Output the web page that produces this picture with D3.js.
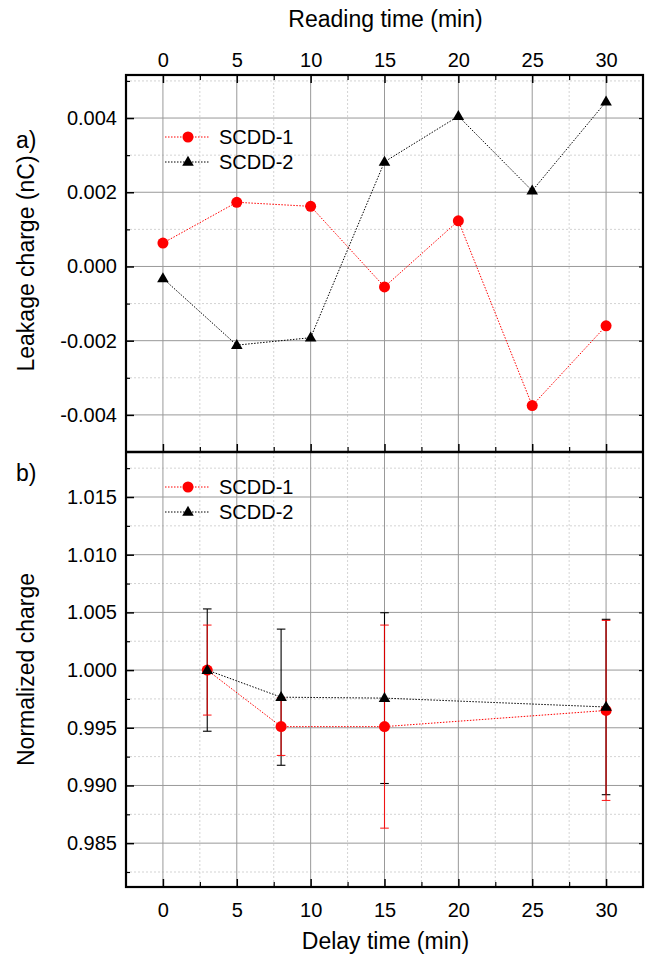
<!DOCTYPE html>
<html><head><meta charset="utf-8">
<script src="https://cdn.jsdelivr.net/npm/d3@7"></script>
<style>body{margin:0;background:#fff}svg{display:block}text{font-family:"Liberation Sans",Arial,sans-serif;fill:#000}</style>
</head><body><svg id="c" width="648" height="959"></svg>
<script>
// ---- data ----
const readTimes = [0, 5, 10, 15, 20, 25, 30];
const leakSCDD1 = [0.00063, 0.00173, 0.00162, -0.00055, 0.00123, -0.00375, -0.0016];
const leakSCDD2 = [-0.00032, -0.00212, -0.00192, 0.00282, 0.00405, 0.00204, 0.00444];
const delayTimes = [3, 8, 15, 30];
const normSCDD1 = [1.0000, 0.9951, 0.9951, 0.9965];
const errSCDD1 = [0.0039, 0.0025, 0.0088, 0.0078];
const normSCDD2 = [1.0000, 0.99765, 0.99757, 0.9968];
const errSCDD2 = [0.0053, 0.0059, 0.0074, 0.0076];
const xTicks = [0, 5, 10, 15, 20, 25, 30];
const yTicksA = [-0.004, -0.002, 0.000, 0.002, 0.004];
const yTicksB = [0.985, 0.990, 0.995, 1.000, 1.005, 1.010, 1.015];
const seriesNames = ["SCDD-1", "SCDD-2"];
const seriesColors = ["#ff0000", "#000000"];

const svg = d3.select("#c");
const L = 126, R = 643, TA = 75, MID = 452, BB = 887;
const FT = 20, FTITLE = 23;
const x = d3.scaleLinear().domain([-2.5, 32.5]).range([L, R]);
const yA = d3.scaleLinear().domain([-0.005, 0.00516]).range([MID, TA]);
const yB = d3.scaleLinear().domain([0.9812, 1.0189]).range([BB, MID]);

function mids(t){const s=t[1]-t[0];const out=[t[0]-s/2];t.forEach(v=>out.push(v+s/2));return out;}
const xMinor = mids(xTicks);
const yMinorA = mids(yTicksA);
const yMinorB = mids(yTicksB);

function grid(y, top, bot, yt, ym){
  const g = svg.append("g");
  xMinor.filter(v=>x(v)>L+1&&x(v)<R-1).forEach(v=>g.append("line").attr("x1",x(v)).attr("x2",x(v)).attr("y1",top).attr("y2",bot).attr("stroke","#c8c8c8").attr("stroke-width",0.8).attr("stroke-dasharray","2,2"));
  ym.filter(v=>y(v)>top+1&&y(v)<bot-1).forEach(v=>g.append("line").attr("x1",L).attr("x2",R).attr("y1",y(v)).attr("y2",y(v)).attr("stroke","#c8c8c8").attr("stroke-width",0.8).attr("stroke-dasharray","2,2"));
  xTicks.forEach(v=>g.append("line").attr("x1",x(v)).attr("x2",x(v)).attr("y1",top).attr("y2",bot).attr("stroke","#999").attr("stroke-width",1));
  yt.forEach(v=>g.append("line").attr("x1",L).attr("x2",R).attr("y1",y(v)).attr("y2",y(v)).attr("stroke","#999").attr("stroke-width",1));
}
grid(yA, TA, MID, yTicksA, yMinorA);
grid(yB, MID, BB, yTicksB, yMinorB);

const fmtA = v => d3.format(".3f")(v).replace("−","-");
const fmtB = d3.format(".3f");
function yAxis(y, ticks, minor, fmt){
  const g = svg.append("g").attr("transform",`translate(${L},0)`);
  g.call(d3.axisLeft(y).tickValues(ticks).tickFormat(fmt).tickSizeInner(-8).tickSizeOuter(0).tickPadding(9));
  g.select(".domain").remove();
  g.selectAll(".tick line").attr("stroke","#000").attr("stroke-width",1.5);
  g.selectAll("text").attr("font-size",FT).attr("font-family","Liberation Sans, Arial, sans-serif");
  const gm = svg.append("g").attr("transform",`translate(${L},0)`);
  gm.call(d3.axisLeft(y).tickValues(minor.filter(v=>y.domain()[0]<v&&v<y.domain()[1])).tickFormat("").tickSizeInner(-4).tickSizeOuter(0));
  gm.select(".domain").remove();
  gm.selectAll(".tick line").attr("stroke","#000").attr("stroke-width",1.2);
  const gr = svg.append("g").attr("transform",`translate(${R},0)`);
  gr.call(d3.axisRight(y).tickValues(ticks).tickFormat("").tickSizeInner(-4).tickSizeOuter(0));
  gr.select(".domain").remove();
  gr.selectAll(".tick line").attr("stroke","#000").attr("stroke-width",1.2);
}
yAxis(yA, yTicksA, yMinorA, fmtA);
yAxis(yB, yTicksB, yMinorB, fmtB);

function xAxis(pos, dir, labels, pad){
  const ax = dir==="top" ? d3.axisTop(x) : d3.axisBottom(x);
  const g = svg.append("g").attr("transform",`translate(0,${pos})`);
  g.call(ax.tickValues(xTicks).tickFormat(labels? d3.format("d") : "").tickSizeInner(-8).tickSizeOuter(0).tickPadding(pad));
  g.select(".domain").remove();
  g.selectAll(".tick line").attr("stroke","#000").attr("stroke-width",1.5);
  g.selectAll("text").attr("font-size",FT).attr("font-family","Liberation Sans, Arial, sans-serif");
  const gm = svg.append("g").attr("transform",`translate(0,${pos})`);
  gm.call((dir==="top"? d3.axisTop(x): d3.axisBottom(x)).tickValues(xMinor.filter(v=>v>-2.5&&v<32.5)).tickFormat("").tickSizeInner(-5).tickSizeOuter(0));
  gm.select(".domain").remove();
  gm.selectAll(".tick line").attr("stroke","#000").attr("stroke-width",1.2);
}
xAxis(TA, "top", true, 8);
xAxis(BB, "bottom", true, 16);
xAxis(MID, "bottom", false, 0);

// frame
svg.append("rect").attr("x",L).attr("y",TA).attr("width",R-L).attr("height",BB-TA).attr("fill","none").attr("stroke","#000").attr("stroke-width",2.2);
svg.append("line").attr("x1",L).attr("x2",R).attr("y1",MID).attr("y2",MID).attr("stroke","#000").attr("stroke-width",2.6);

// markers
const tri = d3.symbol().type(d3.symbolTriangle).size(58);
function marker(g, i, cx, cy){
  if(i===0) g.append("circle").attr("cx",cx).attr("cy",cy).attr("r",5.5).attr("fill",seriesColors[0]);
  else g.append("path").attr("d",tri()).attr("transform",`translate(${cx},${cy+0.5})`).attr("fill",seriesColors[1]);
}

// panel a
const lineA = d3.line().x((d,i)=>x(readTimes[i])).y(d=>yA(d));
[leakSCDD1, leakSCDD2].forEach((s,i)=>{
  svg.append("path").attr("d",lineA(s)).attr("fill","none").attr("stroke",seriesColors[i]).attr("stroke-width",1).attr("stroke-dasharray","1.5,1.5");
});
[leakSCDD1, leakSCDD2].forEach((s,i)=>{
  const g=svg.append("g"); s.forEach((v,j)=>marker(g,i,x(readTimes[j]),yA(v)));
});

// panel b
const lineB = d3.line().x((d,i)=>x(delayTimes[i])).y(d=>yB(d));
[[normSCDD2,errSCDD2,1],[normSCDD1,errSCDD1,0]].forEach(([s,e,i])=>{
  const g=svg.append("g").attr("stroke",seriesColors[i]).attr("stroke-width",1.1).attr("opacity",i===0?0.85:1);
  s.forEach((v,j)=>{
    const cx=x(delayTimes[j]);
    g.append("line").attr("x1",cx).attr("x2",cx).attr("y1",yB(v+e[j])).attr("y2",yB(v-e[j]));
    g.append("line").attr("x1",cx-4.3).attr("x2",cx+4.3).attr("y1",yB(v+e[j])).attr("y2",yB(v+e[j]));
    g.append("line").attr("x1",cx-4.3).attr("x2",cx+4.3).attr("y1",yB(v-e[j])).attr("y2",yB(v-e[j]));
  });
});
[normSCDD1, normSCDD2].forEach((s,i)=>{
  svg.append("path").attr("d",lineB(s)).attr("fill","none").attr("stroke",seriesColors[i]).attr("stroke-width",1).attr("stroke-dasharray","1.5,1.5");
});
[normSCDD1, normSCDD2].forEach((s,i)=>{
  const g=svg.append("g"); s.forEach((v,j)=>marker(g,i,x(delayTimes[j]),yB(v)));
});

// legends
function legend(lx, ly, gap){
  seriesNames.forEach((n,i)=>{
    const yy = ly + i*gap;
    svg.append("line").attr("x1",lx).attr("x2",lx+45).attr("y1",yy).attr("y2",yy).attr("stroke",seriesColors[i]).attr("stroke-width",1).attr("stroke-dasharray","1.5,1.5");
    marker(svg, i, lx+23, yy);
    svg.append("text").attr("x",lx+54).attr("y",yy+7).attr("font-size",FT).text(n);
  });
}
legend(165, 137, 25);
legend(165, 487, 25);

// titles
svg.append("text").attr("x",(L+R)/2+1).attr("y",27).attr("text-anchor","middle").attr("font-size",FTITLE).text("Reading time (min)");
svg.append("text").attr("x",(L+R)/2+1).attr("y",949).attr("text-anchor","middle").attr("font-size",FTITLE).text("Delay time (min)");
svg.append("text").attr("transform",`translate(34,${(TA+MID)/2}) rotate(-90)`).attr("text-anchor","middle").attr("font-size",FTITLE).text("Leakage charge (nC)");
svg.append("text").attr("transform",`translate(34,${(MID+BB)/2}) rotate(-90)`).attr("text-anchor","middle").attr("font-size",FTITLE).text("Normalized charge");
svg.append("text").attr("x",16).attr("y",148).attr("font-size",FTITLE).text("a)");
svg.append("text").attr("x",16).attr("y",481).attr("font-size",FTITLE).text("b)");
</script></body></html>
